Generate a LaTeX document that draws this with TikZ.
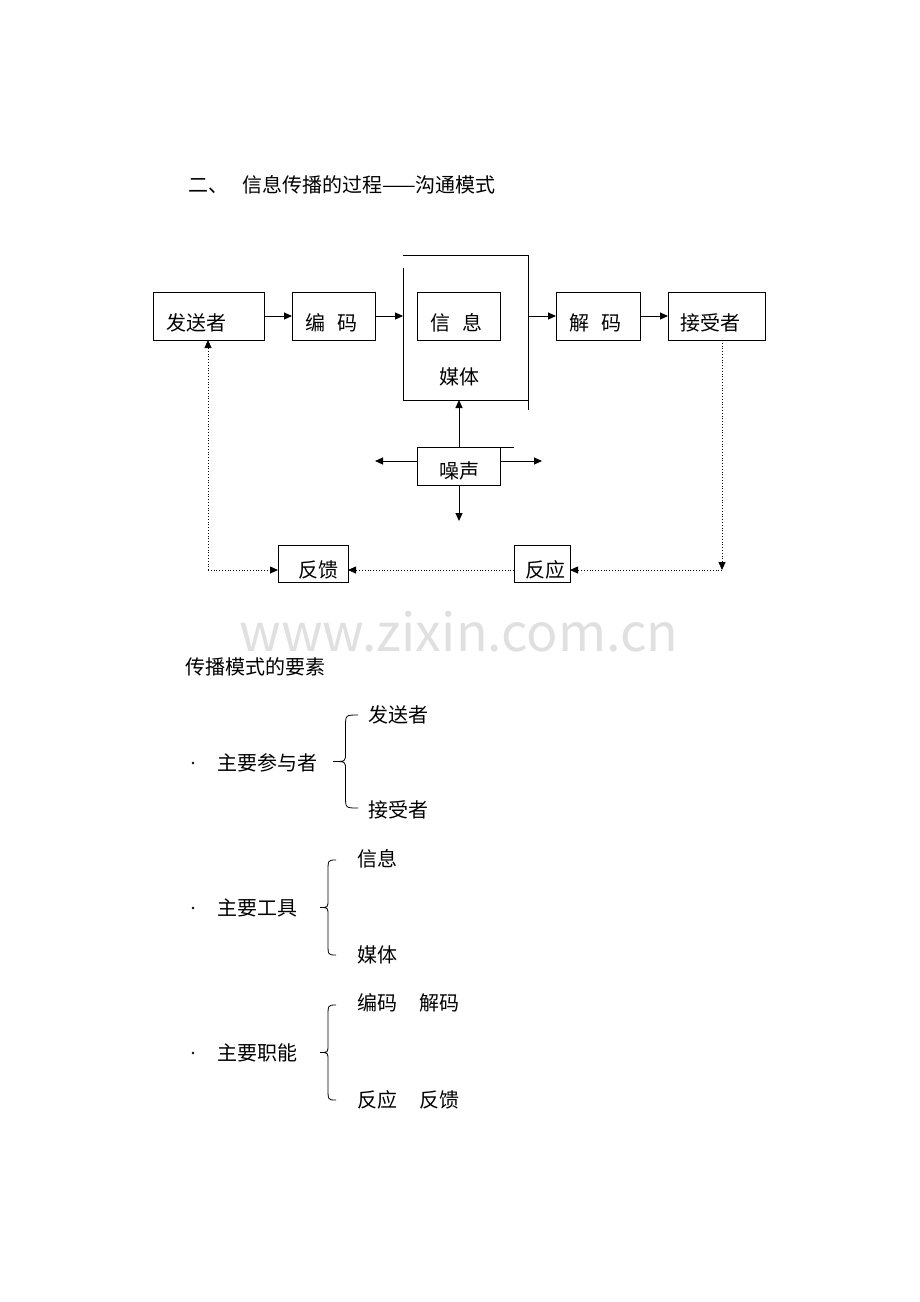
\documentclass[tikz,border=0pt]{standalone}
\usepackage{fontspec}
\setmainfont{Noto Sans CJK SC}
\usetikzlibrary{arrows.meta}
\begin{document}
\begin{tikzpicture}[x=1pt,y=-1pt,
  txt/.style={font=\fontsize{20}{24}\selectfont,inner sep=0pt},
  ar/.style={line width=1pt,-{Triangle[length=8pt,width=7pt]}},
  dar/.style={line width=0.8pt,dotted,-{Triangle[length=8pt,width=7pt]}}]
\useasboundingbox (0,0) rectangle (920,1302);
\node[txt,anchor=west] (title) at (188,185) {二、\hspace{14pt}信息传播的过程——沟通模式};
% boxes
\draw[line width=0.9pt] (153,292) rectangle (264,340); \node[txt,anchor=west] (fs) at (166,323) {发送者};
\coordinate (fsE) at (264,316); \coordinate (fsS) at (208,340);
\draw[line width=0.9pt] (292,292) rectangle (375,340); \node[txt,anchor=west] (bm) at (305,323) {编\hspace{12pt}码};
\coordinate (bmW) at (292,316); \coordinate (bmE) at (375,316);
\draw[line width=0.9pt] (403,255)--(528,255) (403,268)--(403,400)--(528,400) (528,255)--(528,410);
\coordinate (mtW) at (403,316); \coordinate (mtE) at (528,316); \coordinate (mtS) at (459,400);
\draw[line width=0.9pt] (417,292) rectangle (500,340); \node[txt,anchor=west] (xx) at (430,323) {信\hspace{12pt}息};
\node[txt] (mt) at (459,377) {媒体};
\draw[line width=0.9pt] (556,292) rectangle (640,340); \node[txt,anchor=west] (jm) at (569,323) {解\hspace{12pt}码};
\coordinate (jmW) at (556,316); \coordinate (jmE) at (640,316);
\draw[line width=0.9pt] (668,292) rectangle (765,340); \node[txt,anchor=west] (js) at (680,323) {接受者};
\coordinate (jsW) at (668,316); \coordinate (jsS) at (722,340);
\draw[ar] (fsE)--(bmW); \draw[ar] (bmE)--(mtW); \draw[ar] (mtE)--(jmW); \draw[ar] (jmE)--(jsW);
% noise
\draw[line width=0.9pt] (417,447) rectangle (500,485) (500,447)--(514,447);
\node[txt] (zs) at (459,471) {噪声};
\coordinate (zsN) at (459,447); \coordinate (zsS) at (459,485);
\coordinate (zsW) at (417,461); \coordinate (zsE) at (500,461);
\coordinate (zL) at (375,461); \coordinate (zR) at (542,461); \coordinate (zD) at (459,521);
\draw[ar] (zsN)--(mtS); \draw[ar] (zsW)--(zL); \draw[ar] (zsE)--(zR); \draw[ar] (zsS)--(zD);
% feedback
\draw[line width=0.9pt] (278,545) rectangle (348,582); \node[txt] (fk) at (318,570) {反馈};
\draw[line width=0.9pt] (514,545) rectangle (570,582); \node[txt] (fy) at (545,570) {反应};
\coordinate (c1) at (722,570); \coordinate (c2) at (208,570);
\draw[dar] (jsS)--(c1);
\draw[dar] (c1)--(570,570);
\draw[dar] (514,570)--(348,570);
\draw[dar] (c2)--(278,570);
\draw[dar] (c2)--(fsS);
% watermark
\node[font=\fontsize{52}{56}\selectfont,text=black!12] (wm) at (459,632) {www.zixin.com.cn};
% lower list
\node[txt,anchor=west] (ys) at (185,667) {传播模式的要素};
\foreach \y/\t in {763/主要参与者,908/主要工具,1053/主要职能}{
  \fill (193,\y) circle (1.3);
  \node[txt,anchor=west] at (217,\y) {\t};}
\newcommand\mybrace[4]{% x0 tip, x1 ends, top, bottom
  \pgfmathsetmacro\m{(#3+#4)/2}\pgfmathsetmacro\xm{(#1+#2)/2}
  \draw[line width=0.8pt] (#2,#3) .. controls (\xm,#3) .. (\xm,#3+12) -- (\xm,\m-8) .. controls (\xm,\m) .. (#1,\m)
     .. controls (\xm,\m) .. (\xm,\m+8) -- (\xm,#4-12) .. controls (\xm,#4) .. (#2,#4);}
\mybrace{333}{358}{715}{808}
\mybrace{320}{336}{860}{955}
\mybrace{320}{336}{1005}{1100}
\node[txt,anchor=west] at (368,715) {发送者};
\node[txt,anchor=west] at (368,810) {接受者};
\node[txt,anchor=west] at (357,859) {信息};
\node[txt,anchor=west] at (357,955) {媒体};
\node[txt,anchor=west] at (357,1003) {编码\hspace{22pt}解码};
\node[txt,anchor=west] at (357,1100) {反应\hspace{22pt}反馈};
\end{tikzpicture}
\end{document}
